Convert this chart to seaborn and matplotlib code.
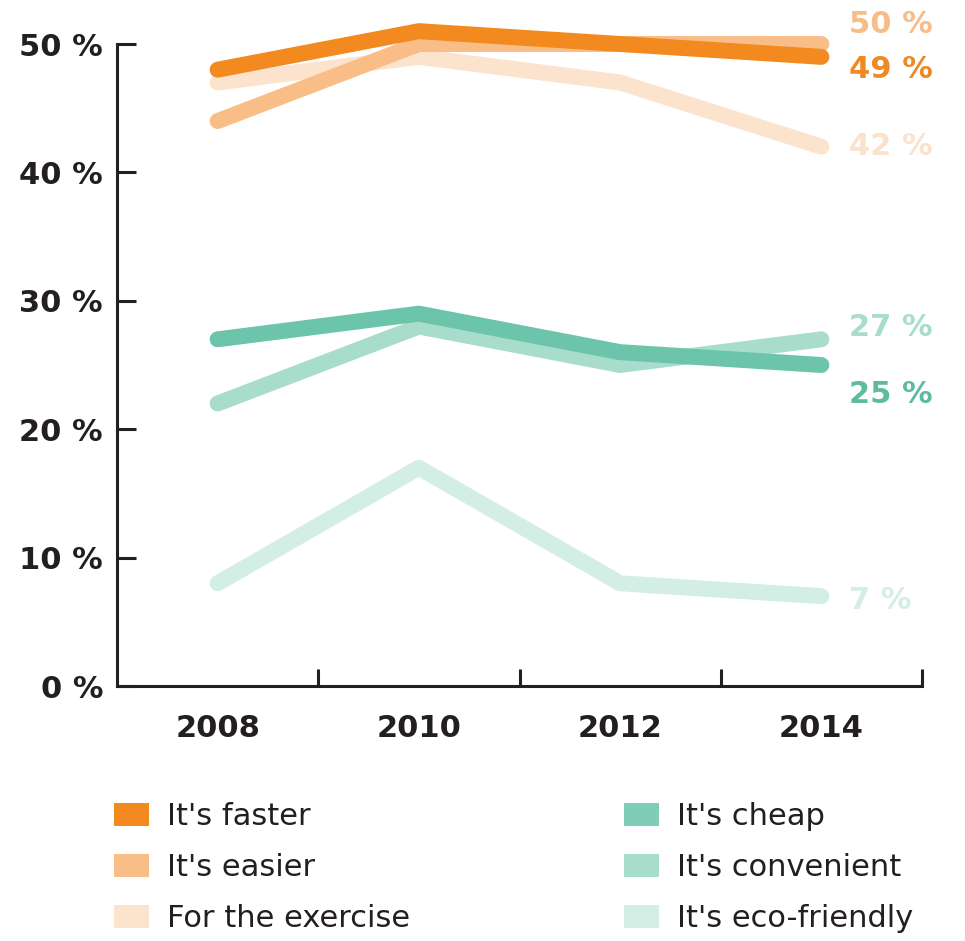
import pandas as pd
import matplotlib.pyplot as plt
import seaborn as sns
from matplotlib.patches import Patch

# Data
years = ["2008", "2010", "2012", "2014"]
faster = [48, 51, 50, 49]
easier = [44, 50, 50, 50]
exercise = [47, 49, 47, 42]
cheap = [27, 29, 26, 25]
convenient = [22, 28, 25, 27]
eco = [8, 17, 8, 7]

labels = ["It's faster", "It's easier", "For the exercise",
          "It's cheap", "It's convenient", "It's eco-friendly"]
series = [faster, easier, exercise, cheap, convenient, eco]

colors = {
    "It's faster": "#F28A20",
    "It's easier": "#F9BD88",
    "For the exercise": "#FCE3CD",
    "It's cheap": "#6CC4AA",
    "It's convenient": "#A8DCCB",
    "It's eco-friendly": "#D2EEE5",
}
legend_colors = {
    "It's faster": "#F28A20",
    "It's easier": "#F9BD88",
    "For the exercise": "#FCE3CD",
    "It's cheap": "#7FCDB7",
    "It's convenient": "#A8DCCB",
    "It's eco-friendly": "#D2EEE5",
}
text_colors = {
    "It's faster": "#EE8A26",
    "It's easier": "#F8BC88",
    "For the exercise": "#FBE2CC",
    "It's cheap": "#5DBB9F",
    "It's convenient": "#A8DCCB",
    "It's eco-friendly": "#D2EEE5",
}
# label offsets (points) for the end values
label_offsets = {
    "It's faster": -9.4,
    "It's easier": 13.7,
    "For the exercise": 0,
    "It's cheap": -20.9,
    "It's convenient": 8.6,
    "It's eco-friendly": -2.9,
}

rows = []
for name, vals in zip(labels, series):
    for i, v in enumerate(vals):
        rows.append([i, years[i], name, v])
df = pd.DataFrame(rows, columns=["pos", "year", "reason", "share"])

sns.set_style("white")
plt.rcParams["font.family"] = ["DejaVu Sans"]
dark = "#231F20"

fig = plt.figure(figsize=(9.65, 9.41), dpi=100)
ax = fig.add_axes([117 / 965, 1 - 686 / 941, 805 / 965, 642 / 941])

draw_order = ["It's eco-friendly", "It's convenient", "It's cheap",
              "For the exercise", "It's easier", "It's faster"]
sns.lineplot(data=df, x="pos", y="share", hue="reason", hue_order=draw_order,
             palette=colors, linewidth=11.5, solid_capstyle="round",
             legend=False, ax=ax, clip_on=False)

ax.set_xlim(-0.5, 3.5)
ax.set_ylim(0, 50)
ax.set_xlabel("")
ax.set_ylabel("")

for s in ["top", "right"]:
    ax.spines[s].set_visible(False)
for s in ["left", "bottom"]:
    ax.spines[s].set_linewidth(2.2)
    ax.spines[s].set_color(dark)

ax.set_yticks(range(0, 51, 10))
ax.set_yticklabels([f"{v} %" for v in range(0, 51, 10)])
ax.tick_params(axis="y", left=True, direction="in", length=14, width=2.2, color=dark,
               labelsize=22, labelcolor=dark, pad=10)
for t in ax.get_yticklabels():
    t.set_fontweight("bold")

ax.set_xticks([0.5, 1.5, 2.5, 3.5])
ax.set_xticklabels([])
ax.set_xticks(range(len(years)), minor=True)
ax.set_xticklabels(years, minor=True)
ax.tick_params(axis="x", which="major", bottom=True, direction="in", length=12,
               width=2.2, color=dark)
ax.tick_params(axis="x", which="minor", bottom=True, length=0, labelsize=22,
               labelcolor=dark, pad=20)
for t in ax.get_xticklabels(minor=True):
    t.set_fontweight("bold")

# end-value labels
for name, vals in zip(labels, series):
    ax.annotate(f"{vals[-1]} %", xy=(3, vals[-1]), xytext=(20, label_offsets[name]),
                textcoords="offset points", ha="left", va="center",
                fontsize=22, fontweight="bold", color=text_colors[name],
                annotation_clip=False)

# legend in two columns
handles = [Patch(facecolor=legend_colors[n], edgecolor="none", label=n) for n in labels]
leg_kw = dict(loc="upper left", frameon=False, fontsize=22, handlelength=1.15,
              handleheight=0.75, handletextpad=0.6, labelspacing=0.72,
              borderpad=0, borderaxespad=0)
leg1 = fig.legend(handles=handles[:3], bbox_to_anchor=(114 / 965, 1 - 802 / 941), **leg_kw)
leg2 = fig.legend(handles=handles[3:], bbox_to_anchor=(624 / 965, 1 - 802 / 941), **leg_kw)
for leg in (leg1, leg2):
    for t in leg.get_texts():
        t.set_color(dark)

fig.savefig("out.png", dpi=100)
